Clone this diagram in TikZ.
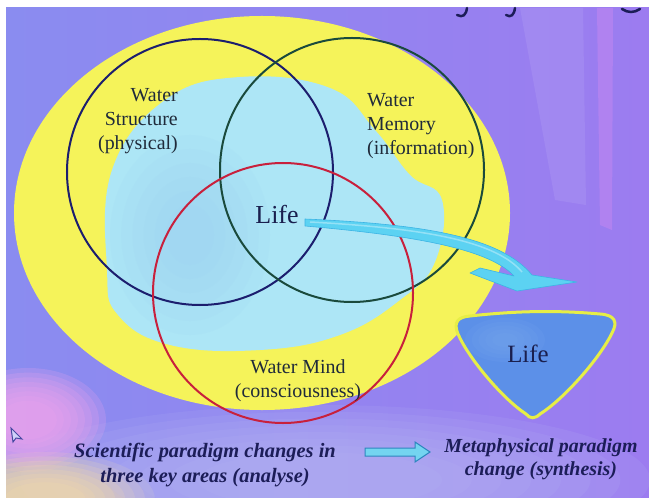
\documentclass[tikz,border=0pt]{standalone}
\usepackage{fontspec}
\setmainfont{Liberation Serif}
\definecolor{bgA}{HTML}{8A8CF0}
\definecolor{bgB}{HTML}{9C7CF0}
\definecolor{bgLight}{HTML}{B8B8F4}
\definecolor{pinkblob}{HTML}{EDA4EC}
\definecolor{peachblob}{HTML}{F4DCA8}
\definecolor{bandpink}{HTML}{E290F0}
\definecolor{ringyellow}{HTML}{F5F35A}
\definecolor{innercyan}{HTML}{ADE6F6}
\definecolor{innerblue}{HTML}{9CCFF2}
\definecolor{cnavy}{HTML}{1C1E6E}
\definecolor{cgreen}{HTML}{1A4A3C}
\definecolor{cred}{HTML}{C8203C}
\definecolor{txtdark}{HTML}{1F2A3A}
\definecolor{lifeblue}{HTML}{1A1F4E}
\definecolor{trifill}{HTML}{5C90E8}
\definecolor{trilight}{HTML}{74A6EE}
\definecolor{triedge}{HTML}{E6EE46}
\definecolor{swoosh}{HTML}{5CD2F2}
\definecolor{swooshedge}{HTML}{3CB4E4}
\definecolor{blockcyan}{HTML}{74D4F0}
\definecolor{blockedge}{HTML}{2E86BE}
\definecolor{capnavy}{HTML}{1C1D58}
\begin{document}
\begin{tikzpicture}[x=1bp,y=-1bp,
  venn/.style={circle, draw=#1, line width=2bp, inner sep=0pt},
  lbl/.style={text=txtdark, font=\fontsize{20}{24}\selectfont, inner sep=0pt},
  lifetxt/.style={text=lifeblue, inner sep=0pt},
  captxt/.style={text=capnavy, font=\fontsize{20.5}{24.5}\selectfont\bfseries\itshape, align=center, inner sep=0pt}]
\useasboundingbox (0,0) rectangle (649,498);
\fill[white] (0,0) rectangle (649,498);
\shade[left color=bgA, right color=bgB] (6,8) rectangle (649,497);
\begin{scope}
\clip (6,8) rectangle (649,497);
% light reflections on the right
\fill[white, opacity=0.08] (520,8) -- (583,8) -- (586,205) -- (555,200) -- cycle;
\fill[bandpink, opacity=0.3] (597,8) -- (613,8) -- (612,230) -- (600,225) -- cycle;
% soft patches (stacked translucent layers)
\foreach \k in {0,...,7} {
  \fill[bgLight, opacity=0.14] (320,480) ellipse [x radius={330bp*(1-\k*0.09)}, y radius={75bp*(1-\k*0.09)}];
  \fill[pinkblob, opacity=0.22] (28,420) ellipse [x radius={78bp*(1-\k*0.09)}, y radius={52bp*(1-\k*0.09)}];
  \fill[peachblob, opacity=0.22] (45,500) ellipse [x radius={110bp*(1-\k*0.09)}, y radius={48bp*(1-\k*0.09)}];
}
\end{scope}
% yellow disc and cyan interior
\fill[ringyellow] (262,213) ellipse [x radius=248bp, y radius=197bp];
\fill[innercyan] plot[smooth cycle, tension=0.7] coordinates {(107,270) (112,170) (165,100) (240,77) (330,88) (375,130) (410,175) (442,200) (435,262) (400,300) (340,335) (260,350) (170,345) (118,315)};
\foreach \k in {0,...,5} {
  \fill[innerblue, opacity=0.13] (190,235) ellipse [x radius={80bp*(1-\k*0.14)}, y radius={100bp*(1-\k*0.14)}];
}
% Venn circles
\node[venn=cnavy, minimum size=266bp] (struct) at (200,172) {};
\node[venn=cgreen, minimum size=264bp] (memory) at (352,170) {};
\node[venn=cred, minimum size=260bp] (mind) at (283,293) {};
% labels
\node[lbl, align=right, anchor=east] (tstruct) at (178,121) {Water\\Structure\\(physical)};
\node[lbl, align=left, anchor=west] (tmem) at (367,126) {Water\\Memory\\(information)};
\node[lbl, align=center] (tmind) at (298,381) {Water Mind\\(consciousness)};
\node[lifetxt, font=\fontsize{26}{30}\selectfont] (life) at (277,215) {Life};
% curved swoosh arrow from Life towards the triangle
\coordinate (swtip) at (577,282);
\filldraw[fill=swoosh, draw=swooshedge, line width=0.6bp, line join=round]
  (305,219) .. controls (420,224) and (500,236) .. (532,275)
  -- (swtip) -- (517,291) -- (470,273) -- (480,268) -- (514,276)
  .. controls (490,250) and (420,236) .. (305,226) -- cycle;
\draw[white, opacity=0.35, line width=1.5bp] (310,222) .. controls (420,228) and (495,240) .. (522,272);
% triangle
\filldraw[fill=trifill, draw=triedge, line width=3bp] (470,316) .. controls (515,311) and (555,310) .. (600,314) .. controls (615,315) and (618,322) .. (612,333) .. controls (600,358) and (564,399) .. (540,414) .. controls (535,419) and (530,419) .. (526,414) .. controls (503,399) and (469,359) .. (458,334) .. controls (453,322) and (458,317) .. (470,316) -- cycle;
\foreach \k in {0,...,4} {
  \fill[trilight, opacity=0.18] (505,340) ellipse [x radius={40bp*(1-\k*0.17)}, y radius={22bp*(1-\k*0.17)}];
}
\node[lifetxt, font=\fontsize{25}{30}\selectfont] (life2) at (528,354) {Life};
% captions
\node[captxt] (capL) at (205,465) {Scientific paradigm changes in\\three key areas (analyse)};
\node[captxt, font=\fontsize{20}{23}\selectfont\bfseries\itshape] (capR) at (541,459) {Metaphysical paradigm\\change (synthesis)};
\filldraw[fill=blockcyan, draw=blockedge, line width=1bp] (365,448) -- (415,448) -- (415,442) -- (430,452) -- (415,462) -- (415,456) -- (365,456) -- cycle;
% cursor
\filldraw[fill=white!60!bgA, draw=cnavy!60!bgA, line width=1bp] (11,428) -- (13,442) -- (16,438) -- (22,439) -- cycle;
% cut-off title fragments
\draw[capnavy, line width=2.5bp, line cap=round] (467,8) .. controls (466,15) and (463,18) .. (457,15);
\draw[capnavy, line width=2.5bp, line cap=round] (515,8) .. controls (514,15) and (511,18) .. (506,15);
\draw[capnavy, line width=2.5bp, line cap=round] (622,9) .. controls (628,13) and (634,13) .. (640,9);
\end{tikzpicture}
\end{document}
